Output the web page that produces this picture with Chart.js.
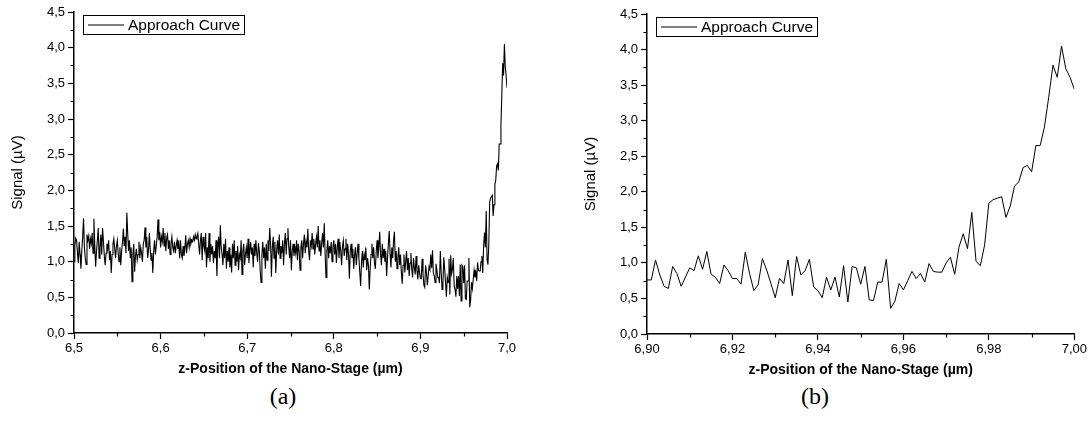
<!DOCTYPE html>
<html>
<head>
<meta charset="utf-8">
<script src="https://cdn.jsdelivr.net/npm/chart.js@4.4.0/dist/chart.umd.min.js"></script>
<style>
body { margin: 0; background: #fff; width: 1091px; height: 429px; position: relative; overflow: hidden; }
.panel { position: absolute; top: 0; }
#wrapA { left: 0; }
#wrapB { left: 573px; }
.cap { position: absolute; top: 383px; width: 60px; text-align: center; font-family: 'Liberation Serif', 'DejaVu Serif', serif; font-size: 24px; color: #000; }
</style>
</head>
<body>
<div class="panel" id="wrapA"><canvas id="chartA" width="521" height="378"></canvas></div>
<div class="panel" id="wrapB"><canvas id="chartB" width="516" height="379"></canvas></div>
<div class="cap" style="left:253px">(a)</div>
<div class="cap" style="left:785px">(b)</div>
<script>
// sampling of the stage (µm)
const xStartA = 6.5;
const xStartB = 6.9;
const xStep = 0.001;

// signal (µV) from 6,500 to 6,899 µm, only shown in (a)
const signalEarly = [
	1.00, 1.22, 1.33, 1.30, 1.12, 0.98, 1.28, 1.10, 0.90, 1.15, 1.35, 1.61, 1.20, 1.05, 0.96, 1.38, 1.30, 1.36, 1.18, 1.32,
	1.25, 1.40, 1.12, 1.60, 1.22, 0.93, 1.15, 1.30, 1.47, 1.05, 1.20, 1.38, 1.10, 1.47, 1.28, 1.08, 0.95, 1.12, 1.25, 1.18,
	1.30, 1.02, 1.15, 0.84, 1.10, 1.25, 1.32, 1.18, 1.05, 1.22, 1.30, 1.12, 1.00, 1.20, 0.95, 1.15, 1.28, 1.46, 1.22, 1.35,
	1.12, 1.69, 1.40, 1.15, 1.30, 1.05, 1.20, 0.72, 1.10, 1.25, 0.86, 1.08, 1.18, 1.02, 1.10, 1.28, 1.05, 1.20, 1.12, 1.00,
	1.25, 1.30, 1.48, 1.20, 1.35, 1.05, 1.15, 1.40, 1.18, 1.02, 1.12, 0.84, 1.15, 1.30, 1.10, 1.22, 1.35, 1.59, 1.30, 1.42,
	1.20, 1.35, 1.28, 1.47, 1.22, 1.40, 1.15, 1.33, 1.38, 1.18, 1.30, 1.10, 1.25, 1.35, 1.20, 1.15, 1.28, 1.12, 1.22, 1.30,
	1.18, 1.25, 1.05, 1.30, 1.10, 1.05, 1.22, 1.08, 1.18, 1.37, 1.12, 1.25, 1.30, 1.20, 1.32, 1.25, 1.30, 1.28, 1.35, 1.30,
	1.38, 1.32, 1.36, 1.40, 1.25, 1.10, 1.30, 1.40, 1.02, 1.35, 1.22, 1.15, 1.40, 0.92, 1.20, 1.05, 1.40, 1.00, 1.25, 1.10,
	1.22, 0.98, 1.15, 1.05, 1.30, 0.80, 1.20, 1.35, 1.05, 1.51, 1.20, 1.10, 0.95, 1.25, 1.05, 1.32, 0.90, 1.15, 1.00, 1.20,
	0.92, 1.10, 0.85, 1.25, 1.05, 1.30, 0.95, 1.15, 1.00, 1.22, 0.88, 1.10, 1.05, 1.30, 0.82, 1.15, 1.25, 0.95, 1.10, 1.20,
	1.05, 1.32, 0.98, 1.15, 1.28, 1.10, 1.20, 0.92, 1.25, 1.08, 1.30, 1.12, 1.00, 1.26, 1.15, 0.88, 0.71, 1.10, 1.28, 1.05,
	1.20, 0.90, 1.25, 1.02, 1.30, 1.15, 1.47, 1.25, 0.79, 1.20, 1.35, 1.05, 1.28, 0.84, 1.15, 1.30, 1.10, 1.38, 1.05, 1.22,
	1.12, 1.30, 0.95, 1.25, 1.40, 1.10, 1.32, 1.47, 1.20, 1.05, 1.30, 0.88, 1.15, 1.25, 1.08, 1.20, 1.12, 1.30, 1.02, 1.25,
	1.15, 0.88, 1.20, 1.30, 1.05, 1.25, 1.38, 1.12, 1.28, 1.20, 1.46, 1.15, 1.02, 1.30, 1.22, 1.40, 1.18, 1.32, 1.10, 1.25,
	1.35, 1.20, 1.50, 1.15, 1.30, 1.08, 1.25, 1.40, 1.20, 1.54, 1.10, 0.78, 1.15, 1.30, 1.05, 1.22, 1.12, 1.28, 1.00, 1.20,
	1.30, 1.10, 1.25, 0.98, 1.20, 1.32, 1.05, 1.28, 1.15, 0.95, 1.22, 1.30, 1.08, 1.18, 1.32, 1.02, 1.25, 1.10, 0.76, 1.15,
	1.25, 1.05, 1.18, 0.90, 1.10, 1.20, 0.95, 1.12, 1.25, 1.05, 0.85, 0.66, 1.00, 1.15, 0.92, 1.10, 1.02, 1.20, 0.88, 1.05,
	0.95, 0.61, 0.90, 1.10, 1.25, 1.05, 1.20, 0.98, 0.90, 1.15, 1.30, 1.05, 1.20, 1.42, 1.10, 0.95, 1.25, 1.05, 1.18, 1.00,
	1.15, 0.80, 1.05, 1.25, 1.43, 1.10, 0.92, 1.20, 1.05, 1.30, 1.42, 1.00, 1.15, 0.90, 1.05, 1.20, 0.95, 1.10, 0.85, 0.69,
	0.95, 1.10, 0.85, 1.00, 1.15, 0.88, 1.05, 0.80, 0.98, 1.12, 0.90, 0.78, 1.05, 0.92, 0.82, 1.08, 0.88, 0.75, 0.95, 0.85
];

// signal (µV) from 6,900 to 7,000 µm, shown in (a) and (b)
const signalLate = [
	0.76, 0.76, 1.04, 0.83, 0.67, 0.64, 0.95, 0.85, 0.67, 0.80, 0.93, 0.89, 1.10, 0.91, 1.16, 0.84, 0.80, 0.71, 0.97, 0.89,
	0.78, 0.78, 0.70, 1.15, 0.85, 0.61, 0.69, 1.06, 0.90, 0.71, 0.51, 0.78, 0.71, 1.04, 0.54, 1.09, 0.83, 0.89, 1.05, 0.66,
	0.61, 0.51, 0.80, 0.62, 0.80, 0.52, 0.96, 0.45, 0.95, 0.93, 0.70, 0.95, 0.48, 0.47, 0.73, 0.73, 1.05, 0.36, 0.46, 0.71,
	0.62, 0.75, 0.88, 0.78, 0.85, 0.73, 0.99, 0.88, 0.87, 0.87, 1.00, 1.08, 0.84, 1.22, 1.41, 1.20, 1.71, 1.02, 0.96, 1.25,
	1.84, 1.89, 1.91, 1.93, 1.64, 1.80, 2.08, 2.14, 2.34, 2.37, 2.28, 2.65, 2.65, 2.91, 3.33, 3.78, 3.61, 4.05, 3.73, 3.61,
	3.44
];

// axis ticks
const yTicks = [0, 0.5, 1, 1.5, 2, 2.5, 3, 3.5, 4, 4.5];
const yMinor = [0.25, 0.75, 1.25, 1.75, 2.25, 2.75, 3.25, 3.75, 4.25];
const xTicksA = [6.5, 6.6, 6.7, 6.8, 6.9, 7.0];
const xMinorA = [6.55, 6.65, 6.75, 6.85, 6.95];
const xTicksB = [6.90, 6.92, 6.94, 6.96, 6.98, 7.00];
const xMinorB = [6.91, 6.93, 6.95, 6.97, 6.99];

const seriesName = 'Approach Curve';
const xTitle = 'z-Position of the Nano-Stage (µm)';
const yTitle = 'Signal (µV)';

const FONT = "'Liberation Sans', Arial, sans-serif";

function toPoints(start, values) {
	return values.map((v, i) => ({ x: +(start + i * xStep).toFixed(3), y: v }));
}

// minor ticks are not built in, draw them with the scales
const minorTicks = {
	id: 'minorTicks',
	afterDraw(chart, args, opts) {
		const ctx = chart.ctx;
		const a = chart.chartArea;
		const xs = chart.scales.x;
		const ys = chart.scales.y;
		ctx.save();
		ctx.strokeStyle = '#000';
		ctx.lineWidth = 1.2;
		ctx.beginPath();
		opts.x.forEach((v) => {
			const px = Math.round(xs.getPixelForValue(v)) + 0.5;
			ctx.moveTo(px, a.bottom);
			ctx.lineTo(px, a.bottom + 3.5);
		});
		opts.y.forEach((v) => {
			const py = Math.round(ys.getPixelForValue(v)) + 0.5;
			ctx.moveTo(a.left, py);
			ctx.lineTo(a.left - 3.5, py);
		});
		ctx.stroke();
		ctx.restore();
	},
};

// framed legend inside the plot, top left
const legendBox = {
	id: 'legendBox',
	afterDraw(chart, args, opts) {
		const ctx = chart.ctx;
		const a = chart.chartArea;
		const ds = chart.data.datasets[0];
		const x = Math.round(a.left + opts.dx);
		const y = Math.round(a.top + opts.dy);
		const mid = y + opts.h / 2;
		ctx.save();
		ctx.fillStyle = '#fff';
		ctx.fillRect(x, y, opts.w, opts.h);
		ctx.strokeStyle = '#000';
		ctx.lineWidth = 1;
		ctx.strokeRect(x + 0.5, y + 0.5, opts.w, opts.h);
		ctx.beginPath();
		ctx.moveTo(x + 5, mid + 0.5);
		ctx.lineTo(x + 41, mid + 0.5);
		ctx.strokeStyle = ds.borderColor;
		ctx.stroke();
		ctx.fillStyle = '#000';
		ctx.font = '15.5px ' + FONT;
		ctx.textBaseline = 'middle';
		ctx.fillText(ds.label, x + 45, mid + 1);
		ctx.restore();
	},
};

function makeChart(id, points, xTicks, xMinor, xDec, padTop, lineWidth) {
	return new Chart(document.getElementById(id), {
		type: 'line',
		data: {
			datasets: [
				{
					label: seriesName,
					data: points,
					borderColor: '#000',
					borderWidth: lineWidth,
					pointRadius: 0,
					tension: 0,
					fill: false,
				},
			],
		},
		options: {
			responsive: false,
			animation: false,
			layout: { padding: { top: padTop, right: 14, bottom: 0, left: 0 } },
			plugins: {
				legend: { display: false },
				tooltip: { enabled: false },
				minorTicks: { x: xMinor, y: yMinor },
				legendBox: { dx: 9, dy: 3, w: 161, h: 19 },
			},
			scales: {
				x: {
					type: 'linear',
					min: xTicks[0],
					max: xTicks[xTicks.length - 1],
					afterBuildTicks: (s) => {
						s.ticks = xTicks.map((v) => ({ value: v }));
					},
					afterFit: (s) => {
						s.height = 45;
					},
					ticks: {
						autoSkip: false,
						maxRotation: 0,
						padding: 2,
						color: '#000',
						font: { family: FONT, size: 13 },
						callback: (v) => v.toFixed(xDec).replace('.', ','),
					},
					grid: { drawOnChartArea: false, tickLength: 6, color: '#000', tickWidth: 1.2 },
					border: { display: true, color: '#000', width: 1.5 },
					title: {
						display: true,
						text: xTitle,
						color: '#000',
						font: { family: FONT, size: 14, weight: 'bold' },
						padding: { top: 0, bottom: 0 },
					},
				},
				y: {
					type: 'linear',
					min: 0,
					max: 4.5,
					afterBuildTicks: (s) => {
						s.ticks = yTicks.map((v) => ({ value: v }));
					},
					afterFit: (s) => {
						s.width = 74;
					},
					ticks: {
						padding: 3,
						color: '#000',
						font: { family: FONT, size: 13 },
						callback: (v) => v.toFixed(1).replace('.', ','),
					},
					grid: { drawOnChartArea: false, tickLength: 6, color: '#000', tickWidth: 1.2 },
					border: { display: true, color: '#000', width: 1.5 },
					title: {
						display: true,
						text: yTitle,
						color: '#000',
						font: { family: FONT, size: 15 },
						padding: { top: 9, bottom: 0 },
					},
				},
			},
		},
		plugins: [minorTicks, legendBox],
	});
}

makeChart('chartA', toPoints(xStartA, signalEarly.concat(signalLate)), xTicksA, xMinorA, 1, 12, 1.1);
makeChart('chartB', toPoints(xStartB, signalLate), xTicksB, xMinorB, 2, 14, 1);
</script>
</body>
</html>
